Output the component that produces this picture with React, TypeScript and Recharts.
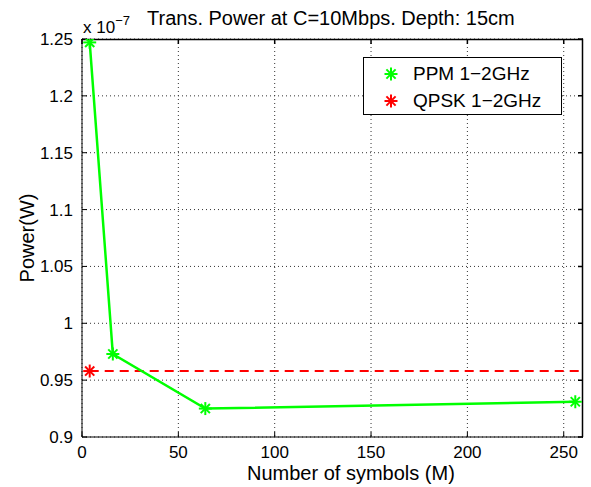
import React from 'react';
import { LineChart, Line, XAxis, YAxis, CartesianGrid, Legend, Customized } from 'recharts';

const ppmSymbols = [4, 16, 64, 256];
const ppmPower = [1.247, 0.973, 0.925, 0.931];
const qpskSymbols = [4, 260];
const qpskPower = [0.958, 0.958];
const xTicks = [0, 50, 100, 150, 200, 250];
const yTicks = [0.9, 0.95, 1, 1.05, 1.1, 1.15, 1.2, 1.25];
const xDomain = [0, 260];
const yDomain = [0.9, 1.25];
const seriesNames = ['PPM 1\u22122GHz', 'QPSK 1\u22122GHz'];
const title = 'Trans. Power at C=10Mbps. Depth: 15cm';

const ppmData = ppmSymbols.map((m, i) => ({ m, p: ppmPower[i] }));
const qpskData = qpskSymbols.map((m, i) => ({ m, p: qpskPower[i] }));

const FONT = '"Liberation Sans", Arial, Helvetica, sans-serif';
const GREEN = '#00ff00';
const RED = '#ff0000';
const MARGIN = { top: 39, right: 8, bottom: 0, left: 0 };
const CHART_W = 591;
const CHART_H = 487;
const Y_AXIS_W = 82;
const X_AXIS_H = 50;

const PLOT = {
  x: MARGIN.left + Y_AXIS_W,
  y: MARGIN.top,
  width: CHART_W - MARGIN.left - MARGIN.right - Y_AXIS_W,
  height: CHART_H - MARGIN.top - MARGIN.bottom - X_AXIS_H,
};

const Star = ({ cx, cy, r = 6.5, color }: { cx: number; cy: number; r?: number; color: string }) => {
  const d = r * 0.7071;
  return (
    <g stroke={color} strokeWidth={2} strokeLinecap="butt">
      <line x1={cx - r} y1={cy} x2={cx + r} y2={cy} />
      <line x1={cx} y1={cy - r} x2={cx} y2={cy + r} />
      <line x1={cx - d} y1={cy - d} x2={cx + d} y2={cy + d} />
      <line x1={cx - d} y1={cy + d} x2={cx + d} y2={cy - d} />
    </g>
  );
};

const greenDot = (props: any) => <Star key={`g${props.index}`} cx={props.cx} cy={props.cy} color={GREEN} />;
const redDot = (props: any) =>
  props.index === 0 ? <Star key={`r${props.index}`} cx={props.cx} cy={props.cy} color={RED} /> : <g key={`r${props.index}`} />;

const renderLegend = () => (
  <div
    style={{
      position: 'relative',
      width: 197,
      height: 56,
      border: '1.5px solid #000',
      background: '#fff',
      fontFamily: FONT,
      fontSize: 19,
      color: '#000',
    }}
  >
    {seriesNames.map((name, i) => (
      <div key={name} style={{ position: 'absolute', left: 0, top: i === 0 ? 5 : 32, height: 22, width: 197 }}>
        <svg width={40} height={22} style={{ position: 'absolute', left: 7, top: 0 }}>
          <Star cx={20} cy={11} color={i === 0 ? GREEN : RED} />
        </svg>
        <span style={{ position: 'absolute', left: 49, top: 0, whiteSpace: 'nowrap', lineHeight: '22px' }}>{name}</span>
      </div>
    ))}
  </div>
);

const FrameAndText = () => {
  const a = PLOT;
  const sx = (v: number) => a.x + ((v - xDomain[0]) / (xDomain[1] - xDomain[0])) * a.width;
  const sy = (v: number) => a.y + a.height - ((v - yDomain[0]) / (yDomain[1] - yDomain[0])) * a.height;
  const right = a.x + a.width;
  const top = a.y;
  const frame =
    `M${a.x},${top + 0.5}H${right - 0.5}V${a.y + a.height}` +
    xTicks.map((t) => `M${sx(t)},${top}V${top + 5}`).join('') +
    yTicks.map((t) => `M${right},${sy(t)}H${right - 5}`).join('');
  return (
    <g>
      <path d={frame} stroke="#000000" strokeWidth={1.5} fill="none" style={{ stroke: '#000', strokeWidth: 1.5 }} />
      <g fontFamily={FONT} fill="#000">
        <text x={147} y={25} fontSize={20}>{title}</text>
        <text x={83} y={33} fontSize={17}>
          x 10
          <tspan dy={-8} fontSize={13}>{'\u22127'}</tspan>
        </text>
        <text x={247} y={480} fontSize={20}>Number of symbols (M)</text>
        <text x={0} y={0} fontSize={20} textAnchor="middle" transform="translate(34,238) rotate(-90)">Power(W)</text>
      </g>
    </g>
  );
};

export default function App() {
  return (
    <div style={{ position: 'absolute', left: 0, top: 0, width: CHART_W, height: CHART_H, background: '#fff' }}>
      <LineChart width={CHART_W} height={CHART_H} margin={MARGIN}>
        <CartesianGrid
          stroke="#333"
          strokeDasharray="1 3"
          horizontalValues={yTicks}
          verticalValues={xTicks}
        />
        <XAxis
          dataKey="m"
          type="number"
          domain={xDomain}
          ticks={xTicks}
          orientation="bottom"
          height={X_AXIS_H}
          stroke="#000"
          tickSize={-5}
          tickMargin={14}
          tick={{ fontSize: 17, fill: '#000', fontFamily: FONT }}
          allowDataOverflow
        />
        <YAxis
          type="number"
          domain={yDomain}
          ticks={yTicks}
          width={Y_AXIS_W}
          stroke="#000"
          tickSize={-5}
          tickMargin={14}
          tick={{ fontSize: 17, fill: '#000', fontFamily: FONT }}
          allowDataOverflow
        />
        <Line
          data={qpskData}
          dataKey="p"
          name={seriesNames[1]}
          stroke={RED}
          strokeWidth={2}
          strokeDasharray="9 6"
          dot={redDot}
          activeDot={false}
          isAnimationActive={false}
          type="linear"
        />
        <Line
          data={ppmData}
          dataKey="p"
          name={seriesNames[0]}
          stroke={GREEN}
          strokeWidth={2.5}
          dot={greenDot}
          activeDot={false}
          isAnimationActive={false}
          type="linear"
        />
        <Legend
          layout="vertical"
          align="center"
          verticalAlign="middle"
          content={renderLegend}
          wrapperStyle={{ position: 'absolute', left: 363, top: 57, width: 200, height: 59 }}
        />
        <Customized component={FrameAndText} />
      </LineChart>
    </div>
  );
}
